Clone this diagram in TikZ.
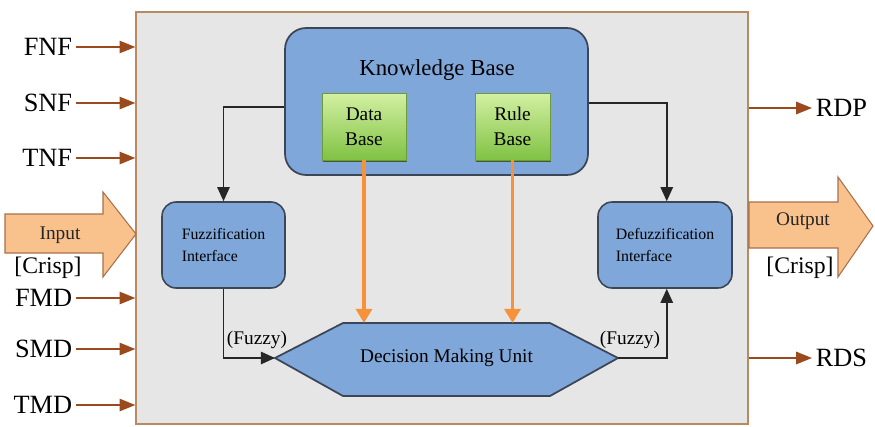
\documentclass[tikz,border=0pt]{standalone}
\usepackage{fontspec}
\setmainfont{Liberation Serif}
\usetikzlibrary{arrows.meta,positioning,shadows}
\definecolor{SysFill}{HTML}{E6E6E6}
\definecolor{SysBorder}{HTML}{B98A62}
\definecolor{BlkFill}{HTML}{7FA7DA}
\definecolor{BlkBorder}{HTML}{3C4656}
\definecolor{DbTop}{HTML}{D3F0A2}
\definecolor{DbBot}{HTML}{80C244}
\definecolor{DbBorder}{HTML}{6E9A3E}
\definecolor{IoFill}{HTML}{F9C18C}
\definecolor{IoBorder}{HTML}{A8704A}
\definecolor{SigArrow}{HTML}{9A4A1C}
\definecolor{RuleArrow}{HTML}{F7913A}

\begin{document}
\begin{tikzpicture}[x=0.02cm,y=-0.02cm,
  sysbox/.style={draw=SysBorder,fill=SysFill,line width=0.8pt,
    minimum width=12.24cm,minimum height=8.24cm},
  kbox/.style={draw=BlkBorder,fill=BlkFill,line width=1pt,
    rounded corners=12pt,minimum width=6.06cm,minimum height=2.94cm},
  ibox/.style={draw=BlkBorder,fill=BlkFill,line width=0.9pt,
    rounded corners=8pt,minimum height=1.72cm,align=left,
    font=\fontsize{9}{13}\selectfont},
  gbox/.style={draw=DbBorder,top color=DbTop,bottom color=DbBot,
    minimum height=1.34cm,align=center,font=\fontsize{11}{14}\selectfont,
    drop shadow={shadow xshift=0.6pt,shadow yshift=-1.4pt,
      fill=DbBorder!60!black,opacity=1}},
  dmustyle/.style={draw=BlkBorder,fill=BlkFill,line width=1pt},
  bigarr/.style={draw=IoBorder,fill=IoFill,line width=0.6pt},
  sig/.style={font=\fontsize{15}{18}\selectfont,inner sep=2pt},
  sigarr/.style={-{Triangle[length=9pt,width=7pt]},draw=SigArrow,line width=1pt},
  barr/.style={-{Triangle[length=8pt,width=7pt]},draw=black!85,line width=1pt},
  oarr/.style={-{Triangle[length=8pt,width=9pt]},draw=RuleArrow,line width=2.2pt},
  iotxt/.style={font=\fontsize{11}{13}\selectfont,text=black!85},
  crisp/.style={font=\fontsize{13.5}{16}\selectfont},
  fz/.style={font=\fontsize{11}{13}\selectfont,inner sep=1pt}
]
\useasboundingbox (0,0) rectangle (875,426);
% system frame
\node[sysbox] (sys) at (442,218) {};

% knowledge base with its two parts
\node[kbox] (kb) at (436.5,101.5) {};
\node[font=\fontsize{13}{15}\selectfont] (kbt) at (437,70) {Knowledge Base};
\node[gbox,minimum width=1.68cm] (db) at (364,126.5) {Data\\Base};
\node[gbox,minimum width=1.5cm] (rb) at (512.5,126.5) {Rule\\Base};

% interfaces
\node[ibox,minimum width=2.46cm] (fuzz) at (223.5,245) {Fuzzification\\Interface};
\node[ibox,minimum width=2.68cm] (defuzz) at (665,245) {Defuzzification\\Interface};

% decision making unit (hexagon)
\draw[dmustyle] (275,358) -- (343,323) -- (550,323) -- (618,358)
  -- (550,396) -- (343,396) -- cycle;
\coordinate (dmuL) at (275,358);
\coordinate (dmuR) at (618,358);
\coordinate (dmuT) at (446,323);
\node[font=\fontsize{11}{13}\selectfont] (dmu) at (446.5,358) {Decision Making Unit};

% connectors
\draw[barr] ([yshift=-3pt]kb.west) -| (fuzz.north);
\draw[barr] ([yshift=-1pt]kb.east) -| ([xshift=1pt]defuzz.north);
\draw[barr] (fuzz.south) |- (dmuL);
\draw[barr] (dmuR) -| ([xshift=1pt]defuzz.south);
\draw[oarr] (db.south) -- (db.south |- dmuT);
\draw[oarr] (rb.south) -- (rb.south |- dmuT);
\node[fz] (fzl) at (257,340) {(Fuzzy)};
\node[fz] (fzr) at (630,340) {(Fuzzy)};

% crisp input / output
\draw[bigarr] (5,214) -- (103,214) -- (103,192) -- (136,234) -- (103,277)
  -- (103,253) -- (5,253) -- cycle;
\node[iotxt] (inp) at (60,235) {Input};
\node[crisp] (crin) at (48,268) {[Crisp]};
\draw[bigarr] (749,202) -- (838,202) -- (838,177) -- (873,226) -- (838,277)
  -- (838,248) -- (749,248) -- cycle;
\node[iotxt] (outp) at (803,221) {Output};
\node[crisp] (crout) at (800,268) {[Crisp]};

% input signals
\foreach \lab/\yy in {FNF/47,SNF/103,TNF/158,FMD/298,SMD/349,TMD/405}
{
  \node[sig,anchor=east] (\lab) at (76,\yy) {\lab};
  \draw[sigarr] (\lab.east) -- (\lab -| sys.west);
}
% output signals
\foreach \lab/\yy in {RDP/108,RDS/358}
{
  \node[sig,anchor=west] (\lab) at (812,\yy) {\lab};
  \draw[sigarr] (\lab -| sys.east) -- (\lab.west);
}
\end{tikzpicture}
\end{document}
